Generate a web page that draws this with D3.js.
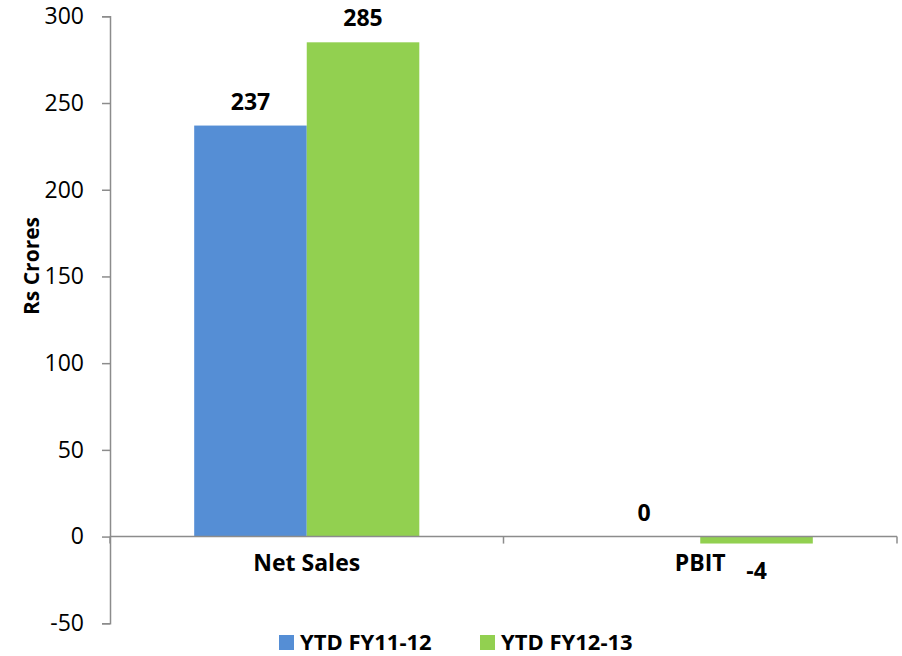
<!DOCTYPE html>
<html>
<head>
<meta charset="utf-8">
<script src="https://cdn.jsdelivr.net/npm/d3@7"></script>
<style>
  html, body { margin: 0; padding: 0; background: #fff; }
  svg { display: block; font-family: "Open Sans", sans-serif; }
</style>
</head>
<body>
<svg id="chart" width="902" height="656"></svg>
<script>
// Data
const categories = ["Net Sales", "PBIT"];
const seriesNames = ["YTD FY11-12", "YTD FY12-13"];
const fy1112 = [237, 0];
const fy1213 = [285, -4];
const yTicks = [-50, 0, 50, 100, 150, 200, 250, 300];
const colors = ["#558ED5", "#92D050"];

const svg = d3.select("#chart");
const plotLeft = 110, plotRight = 897, plotTop = 16.3, plotBottom = 623.3;

const y = d3.scaleLinear().domain([-50, 300]).range([plotBottom, plotTop]);
const x0 = d3.scaleBand().domain(categories).range([plotLeft, plotRight]);
const x1 = d3.scaleBand().domain(seriesNames).range([0, x0.bandwidth()])
  .paddingInner(0).paddingOuter(0.748);

const rows = categories.map((c, i) => ({
  cat: c,
  vals: [
    { s: seriesNames[0], v: fy1112[i], c: colors[0] },
    { s: seriesNames[1], v: fy1213[i], c: colors[1] }
  ]
}));

// Y axis (plain hyphen for negatives)
const yAxis = svg.append("g").attr("transform", `translate(${plotLeft},0)`)
  .call(d3.axisLeft(y).tickValues(yTicks).tickFormat(d => String(d))
    .tickSize(8).tickPadding(18));
yAxis.select(".domain").attr("stroke", "#8c8c8c").attr("stroke-width", 1.5);
yAxis.selectAll(".tick line").attr("stroke", "#8c8c8c").attr("stroke-width", 1.5);
yAxis.selectAll(".tick text").attr("font-size", 23).attr("fill", "#000")
  .attr("font-family", "Open Sans, sans-serif");

// Bars
const groups = svg.append("g").selectAll("g").data(rows).join("g")
  .attr("transform", d => `translate(${x0(d.cat)},0)`);
groups.selectAll("rect").data(d => d.vals).join("rect")
  .attr("x", d => x1(d.s))
  .attr("width", x1.bandwidth())
  .attr("y", d => y(Math.max(0, d.v)))
  .attr("height", d => Math.abs(y(d.v) - y(0)))
  .attr("fill", d => d.c);

// X axis along zero line
const xg = svg.append("g");
xg.append("line").attr("x1", plotLeft).attr("x2", plotRight)
  .attr("y1", y(0)).attr("y2", y(0))
  .attr("stroke", "#8c8c8c").attr("stroke-width", 1.5);
const bounds = [plotLeft].concat(categories.map(c => x0(c) + x0.bandwidth()));
xg.selectAll("line.tk").data(bounds).join("line").attr("class", "tk")
  .attr("x1", d => d).attr("x2", d => d)
  .attr("y1", y(0)).attr("y2", y(0) + 7)
  .attr("stroke", "#8c8c8c").attr("stroke-width", 1.5);
xg.selectAll("text").data(categories).join("text")
  .attr("x", d => x0(d) + x0.bandwidth() / 2)
  .attr("y", y(0) + 34)
  .attr("text-anchor", "middle")
  .attr("font-size", 23).attr("font-weight", "bold")
  .text(d => d);

// Value labels
groups.selectAll("text.val").data(d => d.vals).join("text").attr("class", "val")
  .attr("x", d => x1(d.s) + x1.bandwidth() / 2)
  .attr("y", d => d.v >= 0 ? y(d.v) - 16 : y(d.v) + 35)
  .attr("text-anchor", "middle")
  .attr("font-size", 23).attr("font-weight", "bold")
  .text(d => d.v);

// Y axis title
svg.append("text")
  .attr("transform", "translate(39,266) rotate(-90)")
  .attr("text-anchor", "middle")
  .attr("font-size", 21).attr("font-weight", "bold")
  .text("Rs Crores");

// Legend
const legend = svg.append("g");
const legX = [279, 480];
seriesNames.forEach((s, i) => {
  legend.append("rect").attr("x", legX[i]).attr("y", 635)
    .attr("width", 15).attr("height", 15).attr("fill", colors[i]);
  legend.append("text").attr("x", legX[i] + 21).attr("y", 650)
    .attr("font-size", 22).attr("font-weight", "bold").text(s);
});
</script>
</body>
</html>
